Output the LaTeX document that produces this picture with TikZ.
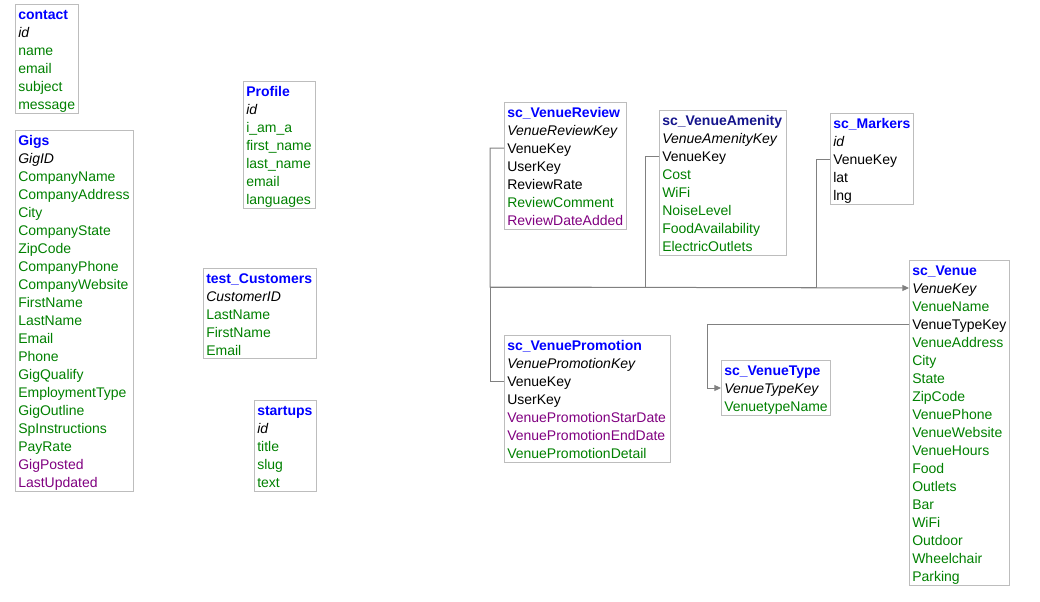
\documentclass[tikz,border=0pt]{standalone}
\usepackage{fontspec}
\setmainfont{Liberation Sans}
\usepackage{xcolor}
\usetikzlibrary{arrows.meta}

\definecolor{titleblue}{HTML}{0000FF}
\definecolor{titlenavy}{HTML}{14148C}
\definecolor{fieldgreen}{HTML}{008000}
\definecolor{datepurple}{HTML}{800080}
\definecolor{boxgrey}{HTML}{BDBDBD}
\definecolor{linkgrey}{HTML}{808080}

\begin{document}
\begin{tikzpicture}[x=0.75pt, y=-0.75pt]
	\tikzstyle{tbl}=[draw=boxgrey, line width=0.75pt]
	\tikzstyle{cell}=[anchor=base west, inner sep=0pt, text height=10.5pt, text depth=3pt, font=\fontsize{10.5pt}{13.5pt}\selectfont]
	\tikzstyle{hd}=[text=titleblue, font=\fontsize{10.5pt}{13.5pt}\selectfont\bfseries]
	\tikzstyle{hdn}=[text=titlenavy, font=\fontsize{10.5pt}{13.5pt}\selectfont\bfseries]
	\tikzstyle{ky}=[text=black, font=\fontsize{10.5pt}{13.5pt}\selectfont\itshape]
	\tikzstyle{fk}=[text=black]
	\tikzstyle{fd}=[text=fieldgreen]
	\tikzstyle{dt}=[text=datepurple]
	\tikzstyle{link}=[draw=linkgrey, line width=0.75pt]

	\useasboundingbox (0,0) rectangle (1040,601);

	% tables on the left
	\draw[tbl] (15,4) coordinate (contact-nw) rectangle (78,113);
	\foreach \s/\t [count=\i from 0] in {hd/contact, ky/id, fd/name, fd/email, fd/subject, fd/message}
		\node[cell,\s] (contact-\i) at (18,19+18*\i) {\t};

	\draw[tbl] (15,130) coordinate (gigs-nw) rectangle (133,491);
	\foreach \s/\t [count=\i from 0] in {hd/Gigs, ky/GigID, fd/CompanyName, fd/CompanyAddress, fd/City, fd/CompanyState, fd/ZipCode, fd/CompanyPhone, fd/CompanyWebsite, fd/FirstName, fd/LastName, fd/Email, fd/Phone, fd/GigQualify, fd/EmploymentType, fd/GigOutline, fd/SpInstructions, fd/PayRate, dt/GigPosted, dt/LastUpdated}
		\node[cell,\s] (gigs-\i) at (18,145+18*\i) {\t};

	\draw[tbl] (243,81) coordinate (profile-nw) rectangle (315,208);
	\foreach \s/\t [count=\i from 0] in {hd/Profile, ky/id, fd/i\_am\_a, fd/first\_name, fd/last\_name, fd/email, fd/languages}
		\node[cell,\s] (profile-\i) at (246,96+18*\i) {\t};

	\draw[tbl] (203,268) coordinate (cust-nw) rectangle (316,358);
	\foreach \s/\t [count=\i from 0] in {hd/test\_Customers, ky/CustomerID, fd/LastName, fd/FirstName, fd/Email}
		\node[cell,\s] (cust-\i) at (206,283+18*\i) {\t};

	\draw[tbl] (254,400) coordinate (startups-nw) rectangle (316,491);
	\foreach \s/\t [count=\i from 0] in {hd/startups, ky/id, fd/title, fd/slug, fd/text}
		\node[cell,\s] (startups-\i) at (257,415+18*\i) {\t};

	% venue tables
	\draw[tbl] (504,102) coordinate (review-nw) rectangle (626,229);
	\foreach \s/\t [count=\i from 0] in {hd/sc\_VenueReview, ky/VenueReviewKey, fk/VenueKey, fk/UserKey, fk/ReviewRate, fd/ReviewComment, dt/ReviewDateAdded}
		\node[cell,\s] (review-\i) at (507,117+18*\i) {\t};

	\draw[tbl] (659,110) coordinate (amenity-nw) rectangle (786,255);
	\foreach \s/\t [count=\i from 0] in {hdn/sc\_VenueAmenity, ky/VenueAmenityKey, fk/VenueKey, fd/Cost, fd/WiFi, fd/NoiseLevel, fd/FoodAvailability, fd/ElectricOutlets}
		\node[cell,\s] (amenity-\i) at (662,125+18*\i) {\t};

	\draw[tbl] (830,113) coordinate (markers-nw) rectangle (913,204);
	\foreach \s/\t [count=\i from 0] in {hd/sc\_Markers, ky/id, fk/VenueKey, fk/lat, fk/lng}
		\node[cell,\s] (markers-\i) at (833,128+18*\i) {\t};

	\draw[tbl] (909,260) coordinate (venue-nw) rectangle (1009,585);
	\foreach \s/\t [count=\i from 0] in {hd/sc\_Venue, ky/VenueKey, fd/VenueName, fk/VenueTypeKey, fd/VenueAddress, fd/City, fd/State, fd/ZipCode, fd/VenuePhone, fd/VenueWebsite, fd/VenueHours, fd/Food, fd/Outlets, fd/Bar, fd/WiFi, fd/Outdoor, fd/Wheelchair, fd/Parking}
		\node[cell,\s] (venue-\i) at (912,275+18*\i) {\t};

	\draw[tbl] (504,335) coordinate (promo-nw) rectangle (670,462);
	\foreach \s/\t [count=\i from 0] in {hd/sc\_VenuePromotion, ky/VenuePromotionKey, fk/VenueKey, fk/UserKey, dt/VenuePromotionStarDate, dt/VenuePromotionEndDate, fd/VenuePromotionDetail}
		\node[cell,\s] (promo-\i) at (507,350+18*\i) {\t};

	\draw[tbl] (721,360) coordinate (vtype-nw) rectangle (830,415);
	\foreach \s/\t [count=\i from 0] in {hd/sc\_VenueType, ky/VenueTypeKey, fd/VenuetypeName}
		\node[cell,\s] (vtype-\i) at (724,375+18*\i) {\t};

	% links
	\coordinate (bus) at (490,287);
	\draw[link, -{Triangle[length=5pt,width=4.5pt]}] (review-2 -| review-nw) -| (bus) -- (venue-1 -| venue-nw);
	\draw[link] (promo-2 -| promo-nw) -| (bus);
	\draw[link] (amenity-2 -| amenity-nw) -- ++(-14,0) |- (bus);
	\draw[link] (markers-2 -| markers-nw) -- ++(-14,0) |- (bus);
	\draw[link, -{Triangle[length=5pt,width=4.5pt]}] (venue-3 -| venue-nw) -- ++(-202,0) |- (vtype-1 -| vtype-nw);
\end{tikzpicture}
\end{document}
